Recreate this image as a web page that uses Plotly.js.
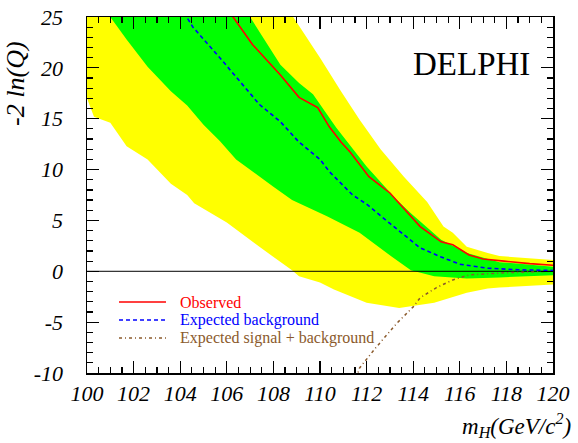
<!DOCTYPE html>
<html>
<head>
<meta charset="utf-8">
<script src="https://cdn.plot.ly/plotly-3.0.1.min.js"></script>
<style>html,body{margin:0;padding:0;background:#fff;}#chart{width:578px;height:443px;}</style>
</head>
<body>
<div id="chart"></div>
<script>
// ---- data ----
// 2-sigma (yellow) band edges
const yellowUpX = [100, 104, 107, 108.85, 110.0, 110.9, 111.7, 112.6, 113.6, 114.6, 115.3, 115.7, 116.3, 117.2, 117.7, 120];
const yellowUpY = [48, 37, 30, 25, 21.0, 17.7, 14.9, 12.0, 9.3, 6.8, 4.4, 3.8, 2.4, 1.8, 1.5, 1.1];
const yellowLoX = [100, 100.3, 101.0, 101.7, 102.6, 103.6, 104.3, 104.6, 106.0, 107.4, 108.8, 109.1, 110.0, 110.6, 112.0, 113.4, 114.9, 116.3, 117.2, 117.7, 120];
const yellowLoY = [17.0, 15.2, 14.6, 12.3, 11.0, 8.6, 7.5, 6.7, 4.8, 2.4, 0.1, -0.5, -1.1, -1.8, -3.1, -3.6, -3.1, -2.1, -1.7, -1.6, -1.3];
// 1-sigma (green) band edges
const greenUpX = [100, 104, 107.0, 108.3, 109.1, 109.7, 110.7, 112.0, 113.3, 113.9, 115.2, 116.3, 117.7, 120];
const greenUpY = [40, 32, 25, 20.3, 18.5, 17.4, 14.1, 10.3, 7.0, 5.7, 3.1, 1.8, 0.9, 0.45];
const greenLoX = [100, 101.0, 101.7, 102.6, 103.6, 104.3, 105.0, 105.7, 106.4, 108.0, 108.8, 110.3, 111.7, 113.1, 113.9, 114.9, 116.3, 117.7, 120];
const greenLoY = [29, 25, 22.8, 20.1, 17.7, 16.3, 14.4, 12.8, 11.0, 8.3, 7.0, 5.4, 3.8, 1.4, 0.1, -0.5, -0.7, -0.6, -0.4];
// curves
const obsX = [106.0, 106.27, 107.1, 108.3, 109.1, 109.9, 110.4, 110.9, 111.3, 112.1, 113.0, 113.9, 114.3, 115.2, 115.7, 116.4, 117.0, 117.9, 119.0, 120];
const obsY = [26, 25, 22.3, 19.3, 17.1, 16.1, 14.2, 12.7, 11.7, 9.3, 7.7, 5.4, 4.4, 2.9, 2.6, 1.6, 1.2, 1.0, 0.75, 0.6];
const bkgX = [104.0, 104.28, 104.55, 105.7, 106.6, 107.4, 108.3, 109.1, 110.0, 110.4, 111.4, 112.0, 113.0, 114.0, 114.3, 115.2, 116.0, 117.2, 118.5, 120];
const bkgY = [26, 25, 24.0, 21.0, 18.6, 16.4, 14.7, 12.7, 11.0, 9.8, 7.5, 6.6, 4.7, 2.8, 2.3, 1.4, 0.7, 0.3, 0.15, 0.08];
const sbX = [111.55, 111.7, 112.4, 113.3, 114.0, 114.3, 115.0, 115.7, 116.4, 117.9, 120];
const sbY = [-10.5, -9.5, -7.5, -5.1, -3.5, -2.6, -1.6, -0.85, -0.35, -0.15, 0.0];
const xTicks = [100, 102, 104, 106, 108, 110, 112, 114, 116, 118, 120];
const yTicks = [-10, -5, 0, 5, 10, 15, 20, 25];
const legendNames = ['Observed', 'Expected background', 'Expected signal + background'];

const band = (ux, uy, lx, ly) => ({
  x: ux.concat(lx.slice().reverse()),
  y: uy.concat(ly.slice().reverse())
});
const yb = band(yellowUpX, yellowUpY, yellowLoX, yellowLoY);
const gb = band(greenUpX, greenUpY, greenLoX, greenLoY);

const serif = '"Liberation Serif", "Times New Roman", Times, serif';
const RED = '#ff0000', BLUE = '#0000ff', BROWN = '#8b5a2b';
const OBS_DASH = 'solid', BKG_DASH = '4px,3px', SB_DASH = '3px,3px,1px,3px';

const traces = [
  {x: yb.x, y: yb.y, fill: 'toself', fillcolor: '#ffff00', mode: 'none', type: 'scatter', hoverinfo: 'skip', showlegend: false},
  {x: gb.x, y: gb.y, fill: 'toself', fillcolor: '#00ff00', mode: 'none', type: 'scatter', hoverinfo: 'skip', showlegend: false},
  {x: [xTicks[0], xTicks[xTicks.length - 1]], y: [0, 0], mode: 'lines', line: {color: '#000', width: 1}, showlegend: false, hoverinfo: 'skip'},
  {x: sbX, y: sbY, mode: 'lines', line: {color: BROWN, width: 1.5, dash: SB_DASH}, name: legendNames[2], showlegend: false},
  {x: bkgX, y: bkgY, mode: 'lines', line: {color: BLUE, width: 1.6, dash: BKG_DASH}, name: legendNames[1], showlegend: false},
  {x: obsX, y: obsY, mode: 'lines', line: {color: RED, width: 1.6, dash: OBS_DASH}, name: legendNames[0], showlegend: false}
];

// legend drawn as short sample lines and coloured labels (paper coordinates)
const legColors = [RED, BLUE, BROWN];
const legDash = [OBS_DASH, BKG_DASH, SB_DASH];
const legY = [0.1994, 0.1489, 0.0983];
const shapes = legendNames.map((n, i) => ({
  type: 'line', xref: 'paper', yref: 'paper', x0: 0.0687, x1: 0.1695, y0: legY[i], y1: legY[i],
  line: {color: legColors[i], width: 1.6, dash: legDash[i]}
}));
const annotations = legendNames.map((n, i) => ({
  text: n, xref: 'paper', yref: 'paper', x: 0.1975, y: legY[i], xanchor: 'left', yanchor: 'middle',
  showarrow: false, borderpad: 0, font: {family: serif, size: 16, color: legColors[i]}
}));
annotations.push({
  text: 'DELPHI', xref: 'paper', yref: 'paper', x: 0.826, y: 0.868, xanchor: 'center', yanchor: 'middle',
  showarrow: false, font: {family: serif, size: 33, color: '#000'}
});
annotations.push({
  text: '-2 ln(Q)', xref: 'paper', yref: 'paper', x: -0.155, y: 0.935, xanchor: 'center', yanchor: 'top',
  textangle: -90, showarrow: false, font: {family: serif, size: 26, color: '#000', style: 'italic'}
});
annotations.push({
  text: 'm<sub>H</sub>(GeV/c<sup>2</sup>)', xref: 'paper', yref: 'paper', x: 1.04, y: -0.1, xanchor: 'right', yanchor: 'top',
  showarrow: false, borderpad: 0, font: {family: serif, size: 23, color: '#000', style: 'italic'}
});

const axisCommon = {
  showline: true, linecolor: '#000', linewidth: 1.5, mirror: 'ticks',
  ticks: 'inside', ticklen: 12, tickwidth: 1.2, tickcolor: '#000',
  showgrid: false, zeroline: false,
  tickfont: {family: serif, size: 22, color: '#000', style: 'italic'}
};

const layout = {
  width: 578, height: 443,
  margin: {l: 87, r: 25, t: 17, b: 70},
  paper_bgcolor: '#fff', plot_bgcolor: '#fff',
  showlegend: false,
  font: {family: serif},
  xaxis: Object.assign({}, axisCommon, {
    range: [100, 120], tickvals: xTicks, ticktext: xTicks.map(String),
    minor: {dtick: 0.5, ticklen: 6, tickwidth: 1.2, tickcolor: '#000', ticks: 'inside'}
  }),
  yaxis: Object.assign({}, axisCommon, {
    range: [-10, 25], tickvals: yTicks, ticktext: yTicks.map(String), ticklabelstandoff: 18,
    minor: {dtick: 1, ticklen: 6, tickwidth: 1.2, tickcolor: '#000', ticks: 'inside'}
  }),
  shapes: shapes,
  annotations: annotations
};

Plotly.newPlot('chart', traces, layout, {staticPlot: true, displayModeBar: false});
</script>
</body>
</html>
